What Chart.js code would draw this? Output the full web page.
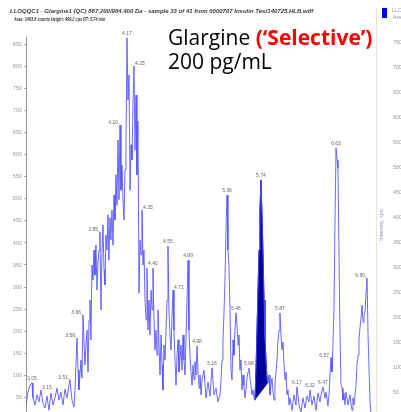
<!DOCTYPE html>
<html><head><meta charset="utf-8">
<script src="https://cdn.jsdelivr.net/npm/chart.js@4.4.1/dist/chart.umd.min.js"></script>
<style>
html,body{margin:0;padding:0;background:#fff;overflow:hidden;width:401px;height:412px;position:relative;}
#wrap{position:absolute;left:0;top:0;width:430px;height:412px;}
canvas{display:block;}
.hdr{position:absolute;font-family:"Liberation Sans",Arial,sans-serif;font-style:italic;font-weight:bold;font-size:5.5px;color:#3a3a3a;white-space:nowrap;line-height:6px;transform-origin:0 0;}
.ttl{position:absolute;left:168px;font-family:"Open Sans",sans-serif;font-size:21px;line-height:24px;color:#000;white-space:nowrap;}
.ttl b{color:#ff0000;font-weight:bold;}
.small{position:absolute;font-family:"Liberation Sans",Arial,sans-serif;font-size:5.5px;color:#999;white-space:nowrap;line-height:6px;}
</style></head><body>
<div id="wrap"><canvas id="c" width="430" height="412"></canvas></div>
<div class="hdr" id="h1" style="left:10px;top:8px;">LLOQQC1 - Glargine1 (QC) 867.200/984.400 Da - sample 33 of 41 from 0000707 Insulin Test140725.HLB.wiff</div>
<div class="hdr" id="h2" style="left:14px;top:16px;">Area: 1463.6 counts Height: 499.2 cps RT: 5.74 min</div>
<div class="ttl" style="top:25px;">Glargine <b>(‘Selective’)</b></div>
<div class="ttl" style="top:49px;">200 pg/mL</div>
<div style="position:absolute;left:382px;top:8px;width:5px;height:10px;background:#0000dd;"></div>
<div class="small" style="left:392px;top:7px;">LLOQQC1</div>
<div class="small" style="left:393px;top:14px;">Area</div>
<div style="position:absolute;left:376px;top:8px;width:1px;height:404px;background:#ebe4d6;"></div>
<div class="small" style="left:363px;top:222px;transform:rotate(-90deg);transform-origin:50% 50%;width:36px;text-align:center;">Intensity, cps</div>
<script>
// ---- data (time in min, intensity in cps) ----
const times = [
 2.966,2.989,3.013,3.037,3.048,3.072,3.096,3.119,3.143,3.166,
 3.190,3.214,3.237,3.261,3.285,3.308,3.332,3.355,3.379,3.403,
 3.426,3.450,3.473,3.485,3.509,3.532,3.544,3.568,3.580,3.591,
 3.615,3.627,3.639,3.662,3.674,3.686,3.698,3.710,3.721,3.733,
 3.745,3.757,3.769,3.780,3.792,3.804,3.816,3.828,3.839,3.851,
 3.863,3.875,3.887,3.898,3.910,3.922,3.934,3.945,3.957,3.969,
 3.981,3.993,4.005,4.016,4.028,4.040,4.052,4.064,4.076,4.087,
 4.099,4.111,4.123,4.135,4.146,4.158,4.170,4.182,4.194,4.206,
 4.217,4.229,4.241,4.253,4.265,4.276,4.288,4.300,4.312,4.324,
 4.335,4.347,4.359,4.371,4.383,4.394,4.406,4.418,4.430,4.442,
 4.454,4.465,4.477,4.489,4.501,4.513,4.524,4.536,4.548,4.560,
 4.572,4.583,4.595,4.607,4.619,4.631,4.642,4.654,4.666,4.678,
 4.690,4.702,4.713,4.725,4.737,4.749,4.761,4.772,4.784,4.796,
 4.808,4.820,4.831,4.843,4.855,4.867,4.879,4.890,4.902,4.914,
 4.926,4.938,4.950,4.961,4.973,4.985,4.997,5.009,5.020,5.032,
 5.044,5.067,5.091,5.115,5.138,5.162,5.185,5.209,5.232,5.256,
 5.268,5.280,5.291,5.303,5.315,5.327,5.339,5.350,5.362,5.374,
 5.386,5.398,5.410,5.421,5.433,5.445,5.457,5.469,5.480,5.492,
 5.504,5.516,5.528,5.539,5.551,5.563,5.575,5.587,5.598,5.610,
 5.622,5.634,5.646,5.658,5.669,5.681,5.693,5.705,5.717,5.728,
 5.740,5.752,5.764,5.776,5.787,5.799,5.811,5.823,5.835,5.846,
 5.858,5.870,5.882,5.894,5.905,5.917,5.929,5.941,5.953,5.964,
 5.976,5.988,6.000,6.012,6.024,6.035,6.047,6.059,6.071,6.083,
 6.106,6.130,6.153,6.165,6.189,6.212,6.236,6.260,6.283,6.307,
 6.319,6.342,6.366,6.390,6.413,6.437,6.449,6.472,6.496,6.508,
 6.531,6.543,6.555,6.567,6.578,6.590,6.602,6.614,6.626,6.638,
 6.649,6.661,6.673,6.685,6.697,6.708,6.720,6.732,6.744,6.767,
 6.791,6.803,6.815,6.826,6.838,6.850,6.862,6.874,6.886,6.897,
 6.909,6.921,6.933,6.945,6.956,6.968,6.980,6.992,7.004,7.016,
 7.028,7.039
];
const intensity = [
 32,61,77,82,48,32,55,39,66,36,
 25,52,20,59,32,48,70,43,61,32,
 68,48,77,89,43,27,66,184,111,66,
 134,93,236,123,168,202,107,225,270,180,
 350,316,384,327,395,293,357,384,425,248,
 373,441,339,305,418,384,464,361,457,407,
 475,395,509,452,555,486,634,498,668,520,
 577,498,452,566,611,866,725,782,520,623,
 589,714,802,611,736,555,677,286,407,373,
 475,350,384,270,225,343,202,270,191,293,
 248,343,225,157,202,145,248,168,100,191,
 123,66,168,134,202,270,393,248,191,157,
 230,293,202,134,77,145,180,107,134,168,
 111,191,134,100,180,270,361,202,145,107,
 77,123,89,130,100,166,107,70,100,55,
 89,111,48,84,52,116,55,70,39,55,
 89,134,173,241,316,430,509,384,350,248,
 111,89,180,145,202,241,214,168,191,111,
 134,66,100,77,48,66,93,107,116,93,
 77,55,66,48,43,111,202,293,384,475,
 543,464,377,270,186,134,93,82,100,55,
 77,93,61,43,77,107,134,180,202,241,
 191,157,175,123,89,107,55,66,32,48,
 20,55,32,73,32,16,48,25,52,39,
 66,32,52,20,59,39,55,73,48,61,
 30,55,100,139,107,168,252,452,616,589,
 570,380,191,77,70,43,59,32,61,32,
 55,36,20,48,32,55,77,123,145,180,
 207,230,259,220,236,243,282,320,191,111,
 39,9
];
// integrated peak (5.74 min) boundaries
const peakStart = 5.669;
const peakEnd = 5.823;
// labelled apexes
const peakLabels = ["3.05","3.15","3.51","3.58","3.66","3.85","4.10","4.17","4.25","4.35","4.40","4.55","4.71","4.89","4.98","5.16","5.36","5.46","5.68","5.74","5.87","6.17","6.32","6.47","6.57","6.63","6.80"];
const peakTimes  = [3.037,3.143,3.485,3.568,3.639,3.839,4.076,4.158,4.241,4.335,4.465,4.642,4.702,4.879,4.985,5.162,5.339,5.445,5.598,5.740,5.964,6.165,6.319,6.472,6.567,6.626,6.992];
// axis tick labels
const leftTicks = [50,100,150,200,250,300,350,400,450,500,550,600,650,700,750,800,850];
const rightTicks = [50,100,150,200,250,300,350,400,450,500,550,600,650,700,750];

const mainPts = times.map((t,i)=>({x:t,y:intensity[i]}));
const peakPts = mainPts.filter(p=>p.x>=peakStart && p.x<=peakEnd);
const basePts = [peakPts[0], peakPts[peakPts.length-1]];

const labelAlign = ['c','l','r','r','r','r','r','c','l','l','c','c','l','c','c','c','c','c','c','c','c','c','c','c','r','c','r'];

const peakLabelPlugin = {
  id:'peakLabels',
  afterDatasetsDraw(chart){
    const {ctx, scales:{x,y}} = chart;
    ctx.save();
    ctx.font = '5px "Liberation Sans", Arial, sans-serif';
    ctx.fillStyle = '#666';
    ctx.strokeStyle = '#999';
    ctx.lineWidth = 0.6;
    peakTimes.forEach((t,i)=>{
      let k=0,best=Infinity;
      times.forEach((tt,j)=>{const d=Math.abs(tt-t); if(d<best){best=d;k=j;}});
      const px = x.getPixelForValue(times[k]);
      const py = y.getPixelForValue(intensity[k]);
      const a = labelAlign[i];
      if(a==='c'){ ctx.textAlign='center'; ctx.fillText(peakLabels[i], px, py-3); }
      else if(a==='l'){ ctx.textAlign='left'; ctx.fillText(peakLabels[i], px+1, py-1); }
      else {
        ctx.textAlign='right'; ctx.fillText(peakLabels[i], px-2, py-1);
        ctx.beginPath(); ctx.moveTo(px-2, py-1); ctx.lineTo(px, py); ctx.stroke();
      }
    });
    ctx.restore();
  }
};

new Chart(document.getElementById('c'), {
  type:'line',
  data:{datasets:[
    {data:mainPts, borderColor:'rgba(80,80,255,0.85)', borderWidth:1, pointRadius:0, fill:false, tension:0, order:0},
    {data:basePts, borderColor:'rgba(0,0,0,0)', borderWidth:0, pointRadius:0, fill:false, order:2},
    {data:peakPts, borderColor:'#00009c', borderWidth:1, pointRadius:0, backgroundColor:'#00009c', fill:1, order:1}
  ]},
  options:{
    responsive:false, animation:false, devicePixelRatio:1,
    layout:{padding:{top:37,left:0,right:0,bottom:0}},
    plugins:{legend:{display:false}, tooltip:{enabled:false}},
    scales:{
      x:{type:'linear', min:2.966, max:7.098, display:false},
      y:{type:'linear', position:'left', min:16, max:868,
         afterBuildTicks(ax){ ax.ticks = leftTicks.map(v=>({value:v})); },
         afterFit(ax){ ax.width = 26; ax.paddingTop = 0; ax.paddingBottom = 0; },
         grid:{display:true, drawOnChartArea:false, drawTicks:true, tickLength:2, color:'#aaa'},
         border:{display:true, color:'#999', width:1},
         ticks:{autoSkip:false, padding:2, color:'#999', font:{family:'"Liberation Sans", Arial, sans-serif', size:5.5}}
      },
      y2:{type:'linear', position:'right', min:12, max:760,
         afterBuildTicks(ax){ ax.ticks = rightTicks.map(v=>({value:v})); },
         afterFit(ax){ ax.width = 54; ax.paddingTop = 0; ax.paddingBottom = 0; },
         grid:{display:true, drawOnChartArea:false, drawTicks:false},
         border:{display:false},
         ticks:{autoSkip:false, padding:17, color:'#999', font:{family:'"Liberation Sans", Arial, sans-serif', size:5.5}}
      }
    }
  },
  plugins:[peakLabelPlugin]
});
// fit header lines to their widths in the reference
const h1 = document.getElementById('h1');
h1.style.transform = 'scaleX(' + (303 / h1.offsetWidth) + ')';
const h2 = document.getElementById('h2');
h2.style.transform = 'scaleX(' + (91 / h2.offsetWidth) + ')';
</script>
</body></html>
